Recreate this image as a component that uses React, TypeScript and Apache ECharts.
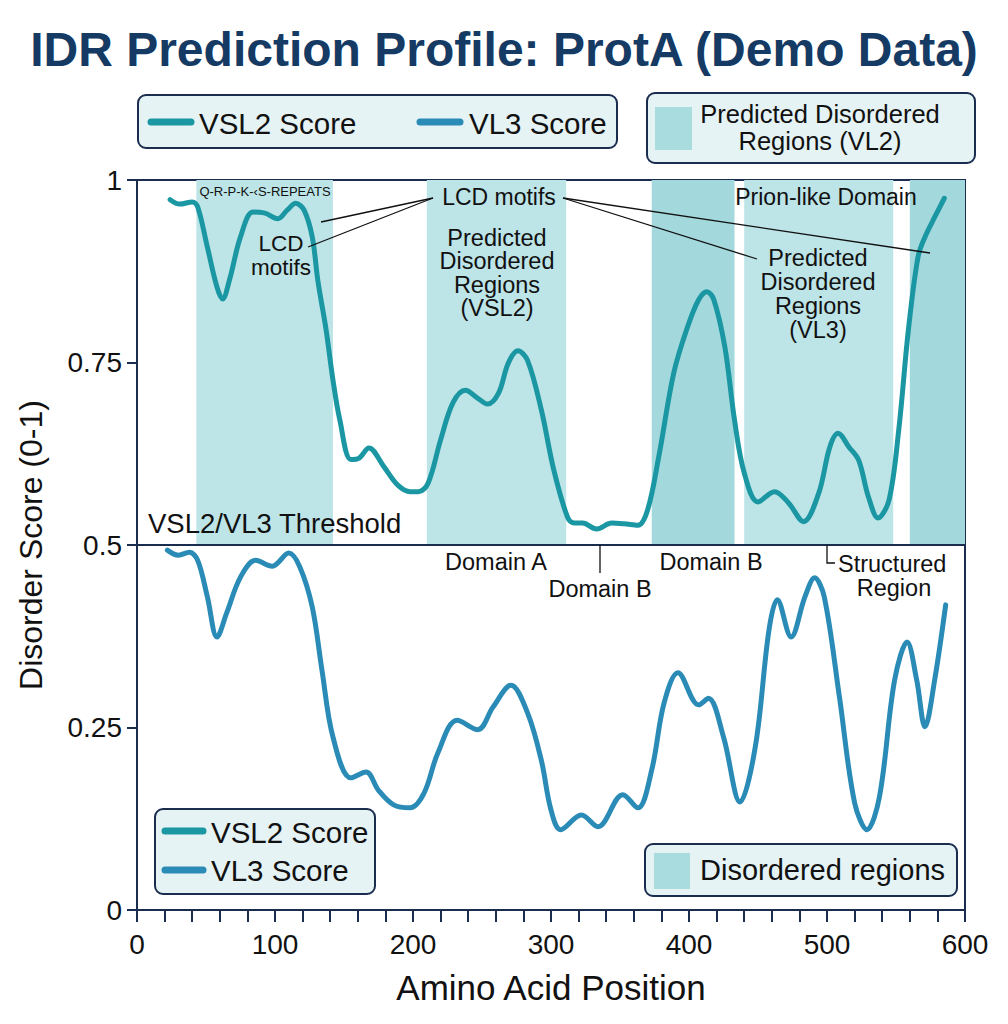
import React, { useEffect, useRef } from "react";
import * as echarts from "echarts";

// ---------- data ----------
const vsl2Pos = [24, 31, 40, 44, 51, 58, 62, 67, 75, 84, 92, 102, 109, 115, 121, 127, 131, 137, 142, 147, 155, 161, 168, 179, 189, 198, 204, 211, 220, 229, 238, 247, 254, 262, 269, 276, 283, 293, 302, 312, 317, 323, 333, 344, 353, 363, 370, 378, 389, 399, 407, 413, 418, 426, 433, 440, 450, 462, 472, 483, 494, 502, 508, 516, 523, 530, 537, 545, 552, 559, 566, 571, 578, 585];
const vsl2Score = [0.973, 0.967, 0.970, 0.963, 0.908, 0.853, 0.837, 0.863, 0.922, 0.956, 0.955, 0.947, 0.959, 0.968, 0.959, 0.922, 0.863, 0.795, 0.726, 0.671, 0.617, 0.619, 0.633, 0.607, 0.582, 0.573, 0.573, 0.585, 0.644, 0.695, 0.712, 0.701, 0.693, 0.708, 0.749, 0.766, 0.753, 0.685, 0.603, 0.538, 0.530, 0.530, 0.522, 0.530, 0.529, 0.527, 0.548, 0.620, 0.736, 0.799, 0.836, 0.847, 0.836, 0.771, 0.671, 0.599, 0.559, 0.573, 0.558, 0.532, 0.571, 0.634, 0.653, 0.634, 0.616, 0.566, 0.537, 0.562, 0.658, 0.795, 0.895, 0.922, 0.949, 0.975];

const vl3Pos = [22, 30, 38, 44, 51, 58, 65, 75, 86, 98, 110, 118, 127, 134, 142, 155, 166, 175, 186, 198, 208, 218, 232, 247, 258, 271, 283, 293, 300, 307, 322, 334, 352, 363, 373, 382, 392, 407, 414, 425, 437, 448, 458, 464, 474, 484, 491, 498, 509, 520, 529, 538, 549, 558, 565, 571, 578, 586];
const vl3Score = [0.493, 0.486, 0.490, 0.479, 0.429, 0.374, 0.407, 0.456, 0.479, 0.471, 0.489, 0.470, 0.415, 0.329, 0.237, 0.181, 0.189, 0.164, 0.144, 0.140, 0.160, 0.215, 0.260, 0.247, 0.278, 0.308, 0.270, 0.205, 0.137, 0.110, 0.130, 0.114, 0.158, 0.140, 0.192, 0.284, 0.325, 0.281, 0.290, 0.237, 0.148, 0.223, 0.384, 0.425, 0.374, 0.429, 0.455, 0.429, 0.292, 0.147, 0.110, 0.155, 0.315, 0.367, 0.315, 0.251, 0.315, 0.418];

// disordered regions (amino-acid ranges), shaded from the threshold to 1
const regionStart = [43, 210, 373, 440, 560];
const regionEnd = [142, 311, 433, 548, 600];
const regionKind = ["VSL2", "VSL2", "VL3", "VSL2", "VL3"];

const threshold = 0.5;
const xTickValues = [0, 100, 200, 300, 400, 500, 600];
const yTickValues = [0, 0.25, 0.5, 0.75, 1];

// ---------- styles ----------
const FONT = "'Liberation Sans', Arial, Helvetica, sans-serif";
const NAVY = "#1b2d4f";
const TEAL = "#1a97a2";
const BLUE = "#2a8bb6";
const SHADE_LIGHT = "#bde4e7";
const SHADE_DARK = "#a3d8dc";
const BOX_BG = "#e5f3f5";
const INK = "#111111";

function txt(text: string, x: number, y: number, size: number, align = "center", extra: any = {}) {
  return {
    type: "text",
    z: 120,
    silent: true,
    style: {
      text,
      x,
      y,
      fill: INK,
      font: `${size}px ${FONT}`,
      textAlign: align,
      textVerticalAlign: "middle",
      align,
      verticalAlign: "middle",
      ...extra,
    },
  };
}

function seg(x1: number, y1: number, x2: number, y2: number, color = INK, width = 1.3, cap = "butt") {
  return {
    type: "line",
    z: 110,
    silent: true,
    shape: { x1, y1, x2, y2 },
    style: { stroke: color, lineWidth: width, lineCap: cap },
  };
}

function box(x: number, y: number, w: number, h: number) {
  return {
    type: "rect",
    z: 100,
    silent: true,
    shape: { x, y, width: w, height: h, r: 8 },
    style: { fill: BOX_BG, stroke: NAVY, lineWidth: 2 },
  };
}

export default function App() {
  const ref = useRef<HTMLDivElement>(null);

  useEffect(() => {
    if (!ref.current) return;
    const chart = echarts.init(ref.current, undefined, { renderer: "svg" });

    const vsl2Data = vsl2Pos.map((p, i) => [p, vsl2Score[i]]);
    const vl3Data = vl3Pos.map((p, i) => [p, vl3Score[i]]);
    const areas = regionStart.map((s, i) => [
      {
        xAxis: s,
        yAxis: threshold,
        itemStyle: { color: regionKind[i] === "VL3" ? SHADE_DARK : SHADE_LIGHT, opacity: 1 },
      },
      { xAxis: regionEnd[i], yAxis: yTickValues[yTickValues.length - 1] },
    ]);

    const graphics: any[] = [
      // top-left legend
      box(138, 95, 479, 53),
      seg(151, 122, 191, 122, TEAL, 7, "round"),
      txt("VSL2 Score", 199, 123, 29.5, "left"),
      seg(420, 122, 460, 122, BLUE, 7, "round"),
      txt("VL3 Score", 469, 123, 29.5, "left"),
      // top-right legend
      box(647, 93, 328, 70),
      { type: "rect", z: 105, silent: true, shape: { x: 655, y: 107, width: 37, height: 43 }, style: { fill: "#a9dcdf" } },
      txt("Predicted Disordered", 820, 114, 25.5, "center"),
      txt("Regions (VL2)", 820, 141, 25.5, "center"),
      // bottom-left legend
      box(155, 809, 220, 85),
      seg(165, 831, 203, 831, TEAL, 7, "round"),
      txt("VSL2 Score", 211, 832, 29.5, "left"),
      seg(165, 870, 203, 870, BLUE, 7, "round"),
      txt("VL3 Score", 211, 870, 29.5, "left"),
      // bottom-right legend
      box(645, 844, 312, 52),
      { type: "rect", z: 105, silent: true, shape: { x: 654, y: 853, width: 36, height: 36 }, style: { fill: "#a9dcdf" } },
      txt("Disordered regions", 700, 870, 29, "left"),
      // annotations upper half
      txt("Q-R-P-K-\u2039S-REPEATS", 265, 191, 13, "center"),
      txt("LCD motifs", 499, 197, 23, "center"),
      seg(433, 198, 321, 222),
      seg(433, 198, 308, 247),
      txt("LCD", 281, 243, 22.5, "center"),
      txt("motifs", 281, 267, 22.5, "center"),
      txt("Predicted\nDisordered\nRegions\n(VSL2)", 497, 273, 23.5, "center", { lineHeight: 23.5 }),
      seg(563, 198, 930, 253),
      seg(563, 198, 757, 259),
      txt("Prion-like Domain", 826, 197, 23, "center"),
      txt("Predicted\nDisordered\nRegions\n(VL3)", 818, 294, 23.5, "center", { lineHeight: 24 }),
      txt("VSL2/VL3 Threshold", 148, 523, 27.5, "left"),
      // annotations below threshold
      txt("Domain A", 496, 562, 23.5, "center"),
      seg(600, 545, 600, 573),
      txt("Domain B", 600, 589, 23.5, "center"),
      txt("Domain B", 711, 562, 23.5, "center"),
      {
        type: "polyline",
        z: 110,
        silent: true,
        shape: { points: [[827, 545], [827, 563], [835, 563]] },
        style: { stroke: INK, lineWidth: 1.3, fill: null },
      },
      txt("Structured", 838, 564, 23.5, "left"),
      txt("Region", 894, 588, 23.5, "center"),
    ];

    const option: any = {
      animation: false,
      backgroundColor: "#ffffff",
      title: {
        text: "IDR Prediction Profile: ProtA (Demo Data)",
        left: "center",
        top: 20,
        textStyle: { fontFamily: FONT, fontSize: 48, fontWeight: "bold", color: "#153a63" },
      },
      grid: {
        left: 137,
        right: 43,
        top: 180,
        bottom: 114,
        show: true,
        borderColor: NAVY,
        borderWidth: 2,
        backgroundColor: "transparent",
      },
      xAxis: {
        type: "value",
        min: xTickValues[0],
        max: xTickValues[xTickValues.length - 1],
        interval: 100,
        name: "Amino Acid Position",
        nameLocation: "middle",
        nameGap: 60,
        nameTextStyle: { fontFamily: FONT, fontSize: 35, color: INK },
        axisLine: { show: true, lineStyle: { color: NAVY, width: 2 } },
        axisTick: { show: true, length: 12, lineStyle: { color: NAVY, width: 2 } },
        minorTick: { show: true, splitNumber: 5, length: 12, lineStyle: { color: NAVY, width: 2 } },
        axisLabel: { fontFamily: FONT, fontSize: 28, color: INK, margin: 20 },
        splitLine: { show: false },
      },
      yAxis: {
        type: "value",
        min: yTickValues[0],
        max: yTickValues[yTickValues.length - 1],
        interval: 0.25,
        name: "Disorder Score (0-1)",
        nameLocation: "middle",
        nameGap: 90,
        nameTextStyle: { fontFamily: FONT, fontSize: 32, color: INK },
        axisLine: { show: true, lineStyle: { color: NAVY, width: 2 } },
        axisTick: { show: true, length: 10, lineStyle: { color: NAVY, width: 2 } },
        axisLabel: { fontFamily: FONT, fontSize: 28, color: INK, margin: 15 },
        splitLine: { show: false },
      },
      series: [
        {
          name: "VSL2 Score",
          type: "line",
          data: vsl2Data,
          smooth: 0.35,
          showSymbol: false,
          symbol: "none",
          lineStyle: { color: TEAL, width: 5, cap: "round", join: "round" },
          itemStyle: { color: TEAL },
          z: 5,
          markArea: { silent: true, data: areas },
          markLine: {
            silent: true,
            symbol: "none",
            label: { show: false },
            lineStyle: { color: NAVY, width: 2, type: "solid" },
            data: [{ yAxis: threshold }],
          },
        },
        {
          name: "VL3 Score",
          type: "line",
          data: vl3Data,
          smooth: 0.35,
          showSymbol: false,
          symbol: "none",
          lineStyle: { color: BLUE, width: 5, cap: "round", join: "round" },
          itemStyle: { color: BLUE },
          z: 5,
        },
      ],
      graphic: graphics,
    };

    chart.setOption(option);
    return () => chart.dispose();
  }, []);

  return (
    <div
      ref={ref}
      style={{ position: "absolute", left: 0, top: 0, width: 1008, height: 1024 }}
    />
  );
}
